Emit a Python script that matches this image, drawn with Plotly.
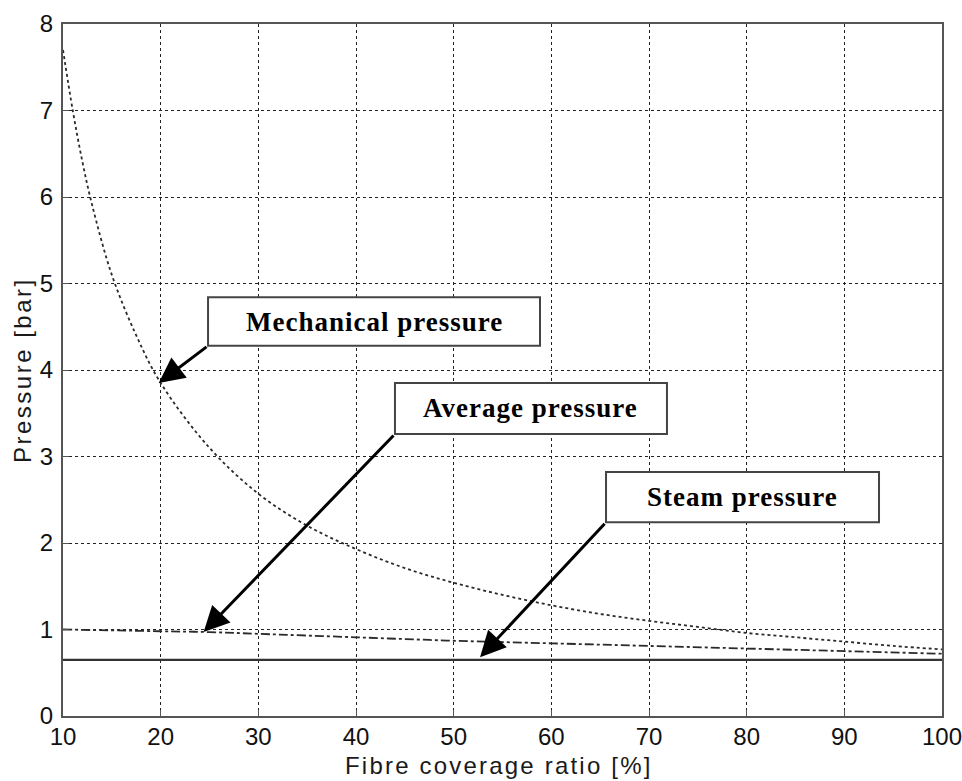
import plotly.graph_objects as go

# ---- data ----
coverage = [10, 11, 12, 13, 15, 17.5, 20, 25, 30, 35, 40, 45, 50, 55, 60, 65, 70, 75, 80, 85, 90, 95, 100]
mechanical = [7.7, 7.0, 6.4, 5.9, 5.1, 4.4, 3.85, 3.1, 2.57, 2.2, 1.93, 1.71, 1.54, 1.4, 1.28, 1.18, 1.1, 1.03, 0.96, 0.91, 0.86, 0.81, 0.77]
avg_x = [10, 20, 25, 30, 40, 50, 60, 70, 80, 90, 100]
average = [1.0, 0.98, 0.97, 0.95, 0.91, 0.87, 0.84, 0.81, 0.78, 0.75, 0.72]
steam_x = [10, 100]
steam = [0.65, 0.65]

x_ticks = [10, 20, 30, 40, 50, 60, 70, 80, 90, 100]
y_ticks = [0, 1, 2, 3, 4, 5, 6, 7, 8]
x_title = "Fibre coverage ratio [%]"
y_title = "Pressure [bar]"

labels = ["Mechanical pressure", "Average pressure", "Steam pressure"]
box_x0 = [24.85, 43.99, 65.6]
box_x1 = [58.84, 71.84, 93.55]
box_y0 = [4.28, 3.26, 2.24]
box_y1 = [4.84, 3.85, 2.82]
arrow_tip_x = [19.8, 24.4, 52.7]
arrow_tip_y = [3.85, 0.97, 0.68]

fig = go.Figure()
fig.add_trace(go.Scatter(x=coverage, y=mechanical, mode="lines", line=dict(color="#2a2a2a", width=1.8, dash="dot", shape="spline"), showlegend=False))
fig.add_trace(go.Scatter(x=avg_x, y=average, mode="lines", line=dict(color="#2a2a2a", width=1.8, dash="dashdot", shape="spline"), showlegend=False))
fig.add_trace(go.Scatter(x=steam_x, y=steam, mode="lines", line=dict(color="#333", width=2.2), showlegend=False))

for i, lab in enumerate(labels):
    fig.add_shape(type="rect", xref="x", yref="y", x0=box_x0[i], x1=box_x1[i], y0=box_y0[i], y1=box_y1[i],
                  line=dict(color="#444", width=2), fillcolor="white", layer="above")
    fig.add_annotation(x=(box_x0[i] + box_x1[i]) / 2, y=(box_y0[i] + box_y1[i]) / 2, xref="x", yref="y",
                       text="<b><span style='letter-spacing:1px'>" + lab + "</span></b>", showarrow=False,
                       font=dict(family="Liberation Serif", size=27, color="black"))
    fig.add_annotation(x=arrow_tip_x[i], y=arrow_tip_y[i], xref="x", yref="y",
                       ax=box_x0[i], ay=box_y0[i], axref="x", ayref="y", text="",
                       showarrow=True, arrowhead=2, arrowsize=1.7, arrowwidth=3, arrowcolor="black", standoff=0)

# axis titles as annotations for exact placement
fig.add_annotation(x=0.5, y=0, xref="paper", yref="paper", yshift=-49, xshift=-4,
                   text="<span style='letter-spacing:2.2px'>" + x_title + "</span>", showarrow=False,
                   font=dict(family="Liberation Sans", size=24, color="#1a1a1a"), yanchor="middle")
fig.add_annotation(x=0, y=0.5, xref="paper", yref="paper", xshift=-41, textangle=-90,
                   text="<span style='letter-spacing:2.5px'>" + y_title + "</span>", showarrow=False,
                   font=dict(family="Liberation Sans", size=24, color="#1a1a1a"), xanchor="center")

axis_common = dict(showgrid=True, gridcolor="#222", griddash="3px,3px", gridwidth=1,
                   showline=True, linecolor="#555", linewidth=2, mirror=True,
                   ticks="inside", ticklen=6, tickcolor="#555", zeroline=False, automargin=False,
                   ticklabeloverflow="allow",
                   tickfont=dict(family="Liberation Sans", size=24, color="#111"))

fig.update_xaxes(range=[10, 100], tickvals=x_ticks, **axis_common, ticklabelstandoff=-2)
fig.update_yaxes(range=[0, 8], tickvals=y_ticks, **axis_common, ticklabelstandoff=3)

fig.update_layout(width=962, height=781, margin=dict(l=63, r=20, t=24, b=65),
                  plot_bgcolor="white", paper_bgcolor="white")
# remove the default 8px page margin so the figure fills the window exactly
fig.write_html("out.html", config={"displayModeBar": False},
               post_script="document.body.style.margin='0px';document.body.style.overflow='hidden';")
